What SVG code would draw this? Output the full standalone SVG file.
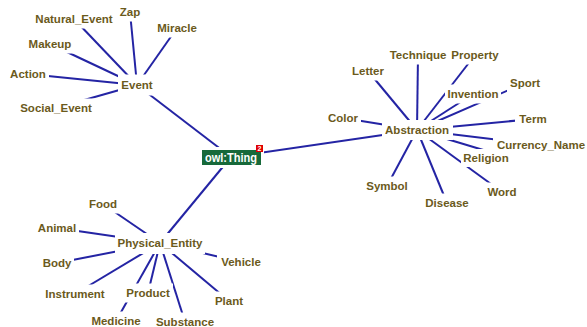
<svg xmlns="http://www.w3.org/2000/svg" width="587" height="327" viewBox="0 0 587 327">
<style>
.e{stroke:#2424a4;stroke-width:2;fill:none}
.bg{fill:#ffffff}
.t{font-family:"Liberation Sans",Arial,sans-serif;font-weight:bold;font-size:11.5px;fill:#6b5a1c;text-anchor:middle}
.root{fill:#17693a}
.rt{font-family:"Liberation Sans",Arial,sans-serif;font-weight:bold;font-size:12px;fill:#ffffff;text-anchor:middle}
</style>
<rect width="587" height="327" fill="#ffffff"/>
<g id="connectors">
<line class="e" x1="231" y1="157" x2="137" y2="85"/>
<line class="e" x1="231" y1="157" x2="417" y2="130"/>
<line class="e" x1="231" y1="157" x2="160" y2="243"/>
<line class="e" x1="137" y1="85" x2="74" y2="19"/>
<line class="e" x1="137" y1="85" x2="130" y2="12"/>
<line class="e" x1="137" y1="85" x2="177" y2="28"/>
<line class="e" x1="137" y1="85" x2="50" y2="44"/>
<line class="e" x1="137" y1="85" x2="28" y2="74"/>
<line class="e" x1="137" y1="85" x2="56" y2="108"/>
<line class="e" x1="417" y1="130" x2="368" y2="71"/>
<line class="e" x1="417" y1="130" x2="418" y2="55"/>
<line class="e" x1="417" y1="130" x2="475" y2="55"/>
<line class="e" x1="417" y1="130" x2="525" y2="83"/>
<line class="e" x1="417" y1="130" x2="473" y2="94"/>
<line class="e" x1="417" y1="130" x2="343" y2="118"/>
<line class="e" x1="417" y1="130" x2="533" y2="119"/>
<line class="e" x1="417" y1="130" x2="541" y2="145"/>
<line class="e" x1="417" y1="130" x2="490" y2="152"/>
<line class="e" x1="417" y1="130" x2="502" y2="192"/>
<line class="e" x1="417" y1="130" x2="387" y2="186"/>
<line class="e" x1="417" y1="130" x2="447" y2="203"/>
<line class="e" x1="160" y1="243" x2="103" y2="204"/>
<line class="e" x1="160" y1="243" x2="57" y2="228"/>
<line class="e" x1="160" y1="243" x2="57" y2="263"/>
<line class="e" x1="160" y1="243" x2="241" y2="262"/>
<line class="e" x1="160" y1="243" x2="75" y2="294"/>
<line class="e" x1="160" y1="243" x2="148" y2="293"/>
<line class="e" x1="160" y1="243" x2="229" y2="301"/>
<line class="e" x1="160" y1="243" x2="116" y2="321"/>
<line class="e" x1="160" y1="243" x2="185" y2="322"/>
</g>
<g id="n-Natural_Event"><rect class="bg" x="33" y="9.5" width="82" height="19"/><text class="t" x="74" y="23">Natural_Event</text></g>
<g id="n-Zap"><rect class="bg" x="116" y="2.5" width="28" height="19"/><text class="t" x="130" y="16">Zap</text></g>
<g id="n-Miracle"><rect class="bg" x="154" y="18.5" width="47" height="19"/><text class="t" x="177" y="32">Miracle</text></g>
<g id="n-Makeup"><rect class="bg" x="25" y="34.5" width="50" height="19"/><text class="t" x="50" y="48">Makeup</text></g>
<g id="n-Action"><rect class="bg" x="7" y="64.5" width="42" height="19"/><text class="t" x="28" y="78">Action</text></g>
<g id="n-Social_Event"><rect class="bg" x="17" y="98.5" width="78" height="19"/><text class="t" x="56" y="112">Social_Event</text></g>
<g id="n-Event"><rect class="bg" x="118" y="74.5" width="38" height="21"/><text class="t" x="137" y="89">Event</text></g>
<g id="n-Letter"><rect class="bg" x="349" y="61.5" width="39" height="19"/><text class="t" x="368" y="75">Letter</text></g>
<g id="n-Technique"><rect class="bg" x="387" y="45.5" width="62" height="19"/><text class="t" x="418" y="59">Technique</text></g>
<g id="n-Property"><rect class="bg" x="449" y="45.5" width="54" height="19"/><text class="t" x="475" y="59">Property</text></g>
<g id="n-Sport"><rect class="bg" x="507" y="73.5" width="37" height="19"/><text class="t" x="525" y="87">Sport</text></g>
<g id="n-Invention"><rect class="bg" x="445" y="84.5" width="56" height="19"/><text class="t" x="473" y="98">Invention</text></g>
<g id="n-Color"><rect class="bg" x="326" y="108.5" width="35" height="19"/><text class="t" x="343" y="122">Color</text></g>
<g id="n-Term"><rect class="bg" x="515" y="109.5" width="36" height="19"/><text class="t" x="533" y="123">Term</text></g>
<g id="n-Religion"><rect class="bg" x="461" y="149" width="50" height="18"/><text class="t" x="486" y="162">Religion</text></g>
<g id="n-Currency_Name"><rect class="bg" x="493" y="135.5" width="94" height="18"/><text class="t" x="541" y="149">Currency_Name</text></g>
<g id="n-Word"><rect class="bg" x="484" y="182.5" width="37" height="19"/><text class="t" x="502" y="196">Word</text></g>
<g id="n-Symbol"><rect class="bg" x="364" y="176.5" width="47" height="19"/><text class="t" x="387" y="190">Symbol</text></g>
<g id="n-Disease"><rect class="bg" x="422" y="193.5" width="50" height="19"/><text class="t" x="447" y="207">Disease</text></g>
<g id="n-Abstraction"><rect class="bg" x="382" y="120" width="71" height="20"/><text class="t" x="417" y="134">Abstraction</text></g>
<g id="n-Food"><rect class="bg" x="87" y="194.5" width="32" height="19"/><text class="t" x="103" y="208">Food</text></g>
<g id="n-Animal"><rect class="bg" x="35" y="218.5" width="44" height="19"/><text class="t" x="57" y="232">Animal</text></g>
<g id="n-Body"><rect class="bg" x="40" y="253.5" width="34" height="19"/><text class="t" x="57" y="267">Body</text></g>
<g id="n-Vehicle"><rect class="bg" x="217" y="252.5" width="48" height="19"/><text class="t" x="241" y="266">Vehicle</text></g>
<g id="n-Instrument"><rect class="bg" x="42" y="284.5" width="66" height="19"/><text class="t" x="75" y="298">Instrument</text></g>
<g id="n-Product"><rect class="bg" x="123" y="283.5" width="50" height="19"/><text class="t" x="148" y="297">Product</text></g>
<g id="n-Plant"><rect class="bg" x="212" y="291.5" width="35" height="19"/><text class="t" x="229" y="305">Plant</text></g>
<g id="n-Medicine"><rect class="bg" x="88" y="311.5" width="56" height="19"/><text class="t" x="116" y="325">Medicine</text></g>
<g id="n-Substance"><rect class="bg" x="153" y="312.5" width="65" height="19"/><text class="t" x="185" y="326">Substance</text></g>
<g id="n-Physical_Entity"><rect class="bg" x="115" y="233" width="90" height="21"/><text class="t" x="160" y="247">Physical_Entity</text></g>
<g id="n-owl-Thing"><rect class="bg" x="199" y="147" width="65" height="21"/><rect class="root" x="202" y="150" width="59" height="15"/><text class="rt" x="231" y="162" textLength="52" lengthAdjust="spacingAndGlyphs">owl:Thing</text><rect x="256" y="145" width="7" height="7" fill="#e00000"/><text x="259.5" y="151" font-family="Liberation Sans,Arial,sans-serif" font-weight="bold" font-size="7" fill="#ffffff" text-anchor="middle">2</text></g>
</svg>
